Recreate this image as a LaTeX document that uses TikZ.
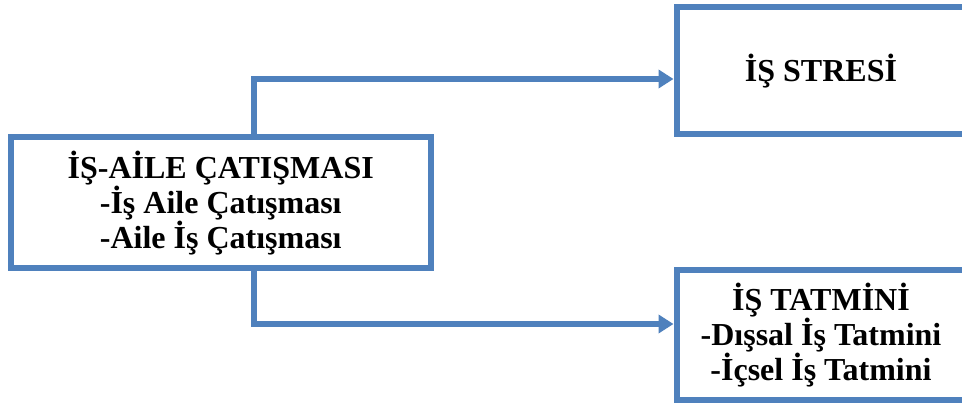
\documentclass[tikz,border=0pt]{standalone}
\usepackage{fontspec}
\setmainfont{Liberation Serif}
\usetikzlibrary{arrows.meta}
\definecolor{boxblue}{HTML}{4F81BD}
\tikzset{
  box/.style={draw=boxblue, line width=6pt, fill=white, align=center, inner sep=0pt,
    font=\fontsize{32}{34}\selectfont\bfseries},
  conn/.style={draw=boxblue, line width=6pt, -{Triangle[length=15pt,width=18pt]}}
}
\begin{document}
\begin{tikzpicture}[x=1pt,y=-1pt]
\clip (0,0) rectangle (962,403);
\fill[white] (0,0) rectangle (962,403);
\node[box, minimum width=419.5pt, minimum height=131.5pt] (lb) at (220.75,202.75)
  {İŞ-AİLE ÇATIŞMASI\\-İş Aile Çatışması\\-Aile İş Çatışması};
\node[box, minimum width=289pt, minimum height=127pt] (ts) at (821,71)
  {İŞ STRESİ};
\node[box, minimum width=289pt, minimum height=129.5pt] (bs) at (821,335.25)
  {İŞ TATMİNİ\\-Dışsal İş Tatmini\\-İçsel İş Tatmini};
\coordinate (t1) at (254,79);
\coordinate (b1) at (254,324);
\draw[conn] (lb.north -| t1) |- (ts.west |- t1);
\draw[conn] (lb.south -| b1) |- (bs.west |- b1);
\end{tikzpicture}
\end{document}
